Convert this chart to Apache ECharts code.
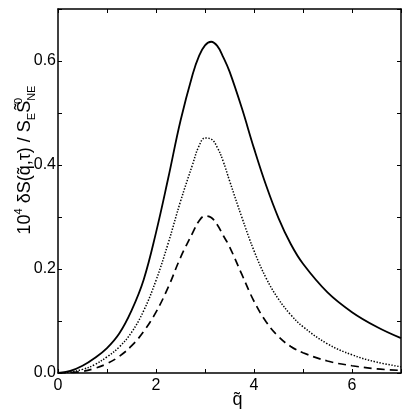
<!DOCTYPE html>
<html>
<head>
<meta charset="utf-8">
<script src="https://cdn.jsdelivr.net/npm/echarts@6/dist/echarts.min.js"></script>
<style>
  html, body { margin: 0; padding: 0; background: #fff; }
  #chart { width: 409px; height: 409px; }
</style>
</head>
<body>
<div id="chart"></div>
<script>
// q~ grid shared by the three curves
var qValues = [0, 0.25, 0.5, 0.75, 1.0, 1.25, 1.5, 1.75, 2.0, 2.25, 2.5, 2.75, 2.875, 3.0, 3.125,
  3.25, 3.375, 3.5, 3.75, 4.0, 4.25, 4.5, 4.75, 5.0, 5.5, 6.0, 6.5, 7.0]

// solid curve (largest)
var solidValues = [0, 0.004, 0.014, 0.029, 0.048, 0.076, 0.120, 0.180, 0.270, 0.375, 0.485, 0.575, 0.609, 0.630, 0.637,
  0.629, 0.607, 0.580, 0.510, 0.432, 0.360, 0.298, 0.248, 0.210, 0.155, 0.117, 0.089, 0.067]

// dotted curve
var dottedValues = [0, 0.002, 0.007, 0.016, 0.031, 0.050, 0.078, 0.120, 0.178, 0.250, 0.330, 0.402, 0.436, 0.452, 0.450,
  0.434, 0.406, 0.370, 0.300, 0.235, 0.182, 0.142, 0.112, 0.089, 0.056, 0.035, 0.021, 0.012]

// dashed curve
var dashedValues = [0, 0.001, 0.003, 0.009, 0.018, 0.032, 0.052, 0.080, 0.117, 0.165, 0.222, 0.270, 0.292, 0.302, 0.299,
  0.285, 0.264, 0.243, 0.190, 0.138, 0.098, 0.070, 0.051, 0.039, 0.023, 0.014, 0.008, 0.005]

var xTickLabels = ['0', '2', '4', '6']
var yTickLabels = ['0.0', '0.2', '0.4', '0.6']

function pairs(vals) {
  return qValues.map(function (q, i) { return [q, vals[i]] })
}

var font = 'Liberation Sans, Arial, Helvetica, sans-serif'
var chart = echarts.init(document.getElementById('chart'), null, { renderer: 'canvas' })

var frameLine = { show: true, onZero: false, lineStyle: { color: '#000', width: 1.5 } }
var tickIn = { show: true, inside: true, length: 4, lineStyle: { color: '#000', width: 1 } }

var option = {
  backgroundColor: '#fff',
  animation: false,
  grid: { left: 58, top: 9, right: 8, bottom: 36, containLabel: false, outerBoundsMode: 'none' },
  xAxis: [
    {
      type: 'value', min: 0, max: 7, interval: 1,
      axisLine: frameLine, axisTick: tickIn, splitLine: { show: false },
      axisLabel: {
        margin: 5, color: '#000', fontSize: 16, fontFamily: font,
        formatter: function (v) { return xTickLabels.indexOf(String(v)) >= 0 ? String(v) : '' }
      },
      name: 'q\u0303', nameLocation: 'middle', nameGap: 18, nameMoveOverlap: false,
      nameTextStyle: { color: '#000', fontSize: 18, fontFamily: font, padding: [0, 0, 0, 16] }
    },
    {
      type: 'value', position: 'top', min: 0, max: 7, interval: 1,
      axisLine: frameLine, axisTick: tickIn, axisLabel: { show: false }, splitLine: { show: false }
    }
  ],
  yAxis: [
    {
      type: 'value', min: 0, max: 0.7, interval: 0.1,
      axisLine: frameLine, axisTick: tickIn, splitLine: { show: false },
      axisLabel: {
        margin: 2, color: '#000', fontSize: 16, fontFamily: font,
        formatter: function (v) {
          var s = v.toFixed(1)
          return yTickLabels.indexOf(s) >= 0 ? s : ''
        }
      }
    },
    {
      type: 'value', position: 'right', min: 0, max: 0.7, interval: 0.1,
      axisLine: frameLine, axisTick: tickIn, axisLabel: { show: false }, splitLine: { show: false }
    }
  ],
  graphic: [
    {
      type: 'text',
      x: 25, y: 160,
      rotation: Math.PI / 2,
      style: {
        text: '10{sup|4} \u03B4S(q\u0303,\u03C4) / S{sub|E}S\u0303{supz|0}{sub|NE}',
        font: '18px ' + font,
        fill: '#000',
        align: 'center',
        verticalAlign: 'middle',
        rich: {
          sup: { fontSize: 11, fontFamily: font, verticalAlign: 'top', lineHeight: 24 },
          supz: { fontSize: 11, fontFamily: font, verticalAlign: 'top', lineHeight: 24, width: 0, align: 'left' },
          sub: { fontSize: 11, fontFamily: font, verticalAlign: 'bottom', lineHeight: 24 }
        }
      }
    }
  ],
  series: [
    {
      type: 'line', data: pairs(solidValues), smooth: 0.4, showSymbol: false,
      lineStyle: { color: '#000', width: 1.8, type: 'solid' }
    },
    {
      type: 'line', data: pairs(dottedValues), smooth: 0.4, showSymbol: false,
      lineStyle: { color: '#000', width: 1.5, type: [1.4, 1.6] }
    },
    {
      type: 'line', data: pairs(dashedValues), smooth: 0.4, showSymbol: false,
      lineStyle: { color: '#000', width: 1.7, type: [8, 5] }
    }
  ]
}
chart.setOption(option)
</script>
</body>
</html>
